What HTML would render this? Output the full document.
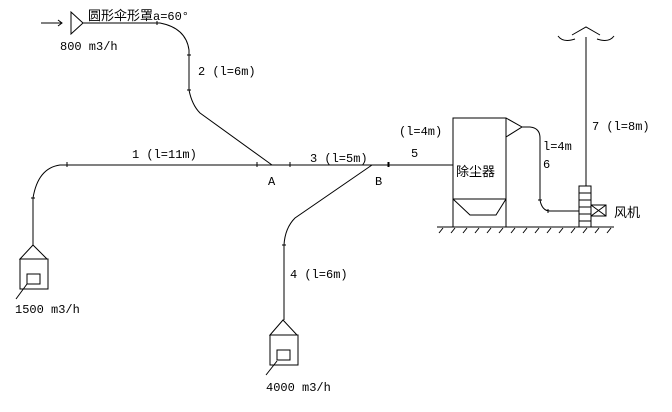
<!DOCTYPE html>
<html><head><meta charset="utf-8"><style>
html,body{margin:0;padding:0;background:#fff;}
svg{display:block}
text{font-family:"Liberation Mono","Noto Sans CJK SC",monospace;font-size:12px;fill:#000}
.c{font-family:"Liberation Sans","Noto Sans CJK SC",sans-serif;font-size:13px}
</style></head><body>
<svg width="672" height="412" viewBox="0 0 672 412" xmlns="http://www.w3.org/2000/svg">
<g fill="none" stroke="#000" stroke-width="1">
<!-- top inlet -->
<line x1="41" y1="23" x2="62" y2="23"/>
<polyline points="58,20 62,23 58,26"/>
<polygon points="71,12 71,34 83,23"/>
<path d="M83,23 H160 Q186,28 189,50 V90 Q192,105 200,113 L272,165"/>
<!-- main line -->
<path d="M33,245 V198 Q38,168 60,165 H453"/>
<!-- branch 4 -->
<path d="M372,165 L295,218 Q285,228 284,245 V320"/>
<!-- hood 1 -->
<polygon points="33,245 20,259 47,259"/>
<rect x="20" y="259" width="28" height="30"/>
<rect x="27" y="274" width="13" height="10"/>
<line x1="27" y1="284" x2="16" y2="299"/>
<!-- hood 4 -->
<polygon points="283,320 270,335 297,335"/>
<rect x="270" y="335" width="28" height="30"/>
<rect x="277" y="350" width="13" height="10"/>
<line x1="277" y1="361" x2="266" y2="375"/>
<!-- dust collector -->
<rect x="453" y="118" width="53" height="109"/>
<line x1="453" y1="199" x2="506" y2="199"/>
<polyline points="453,199 470,215 496,215 506,199"/>
<polyline points="506,118 522,127 506,137"/>
<path d="M522,127 H530 Q540,128 540,138 V200 Q542,211 550,211 H579"/>
<!-- ground -->
<line x1="437" y1="227" x2="614" y2="227"/>
<path d="M443,228 l-4,5 M455,228 l-4,5 M467,228 l-4,5 M479,228 l-4,5 M491,228 l-4,5 M503,228 l-4,5 M515,228 l-4,5 M527,228 l-4,5 M539,228 l-4,5 M551,228 l-4,5 M563,228 l-4,5 M575,228 l-4,5 M587,228 l-4,5 M599,228 l-4,5 M611,228 l-4,5"/>
<!-- stack -->
<line x1="586" y1="37" x2="586" y2="186"/>
<rect x="579" y="186" width="12" height="41"/>
<path d="M579,193 H591 M579,200 H591 M579,207 H591 M579,214 H591 M579,221 H591"/>
<rect x="591" y="205" width="15" height="11"/>
<path d="M591,205 L606,216 M606,205 L591,216"/>
<polyline points="572,35 586,27 600,35"/>
<path d="M558,36 Q563,43 575,39 M614,36 Q609,43 597,39"/>
<!-- ticks -->
<path d="M67,162 v5 M257,162 v5 M290,162 v5 M389,162 v5 M388,162 v5 M33,198 h0 M31,198 h4 M187,55 h4 M187,90 h4 M282,245 h4 M538,200 h4 M548,209 v4 M157,21 v4"/>
</g>
<text x="88" y="20" class="c">圆形伞形罩</text><text x="153" y="20">a=60°</text>
<text x="60" y="50">800 m3/h</text>
<text x="198" y="75">2 (l=6m)</text>
<text x="132" y="158">1 (l=11m)</text>
<text x="268" y="185">A</text>
<text x="310" y="162">3 (l=5m)</text>
<text x="375" y="185">B</text>
<text x="399" y="135">(l=4m)</text>
<text x="411" y="157">5</text>
<text x="456" y="176" class="c">除尘器</text>
<text x="543" y="150">l=4m</text>
<text x="543" y="168">6</text>
<text x="592" y="130">7 (l=8m)</text>
<text x="614" y="217" class="c">风机</text>
<text x="290" y="278">4 (l=6m)</text>
<text x="15" y="313">1500 m3/h</text>
<text x="266" y="391">4000 m3/h</text>
</svg>
</body></html>
